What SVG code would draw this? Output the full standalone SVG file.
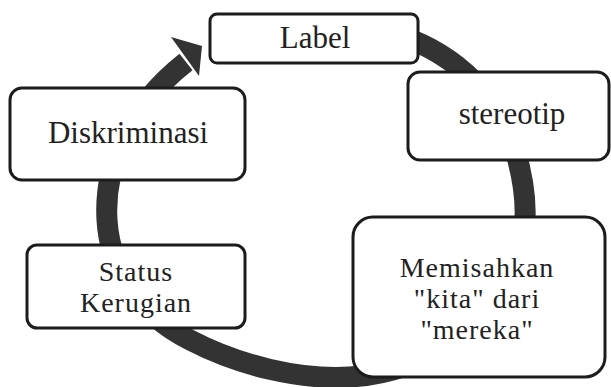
<svg xmlns="http://www.w3.org/2000/svg" width="611" height="387" viewBox="0 0 611 387">
<style>
.box{fill:#fff;stroke:#1c1c1c;stroke-width:3}
.t{font-family:"Liberation Serif","Times New Roman",serif;font-size:31px;fill:#222;text-anchor:middle}
.m{font-size:28px;letter-spacing:1px}
.band{fill:none;stroke:#333;stroke-width:21}
</style>
<rect width="611" height="387" fill="#fff"/>
<g id="connectors">
<path class="band" d="M395 35 C440 45 500 90 515 150 C530 200 528 240 512 272 C485 330 425 372 350 377 C300 380 240 366 190 340 C140 315 110 270 107 220 C104 170 125 110 186 62"/>
<polygon points="171,37 202,46 199,76" fill="#333"/>
</g>
<g id="label"><rect class="box" x="210" y="14" width="208" height="49" rx="7"/><text class="t" x="315" y="48">Label</text></g>
<g id="diskriminasi"><rect class="box" x="10" y="88" width="235" height="92" rx="12"/><text class="t" x="128" y="143">Diskriminasi</text></g>
<g id="stereotip"><rect class="box" x="408" y="72" width="201" height="88" rx="12"/><text class="t" x="512" y="124">stereotip</text></g>
<g id="status"><rect class="box" x="27" y="245" width="218" height="83" rx="10"/><text class="t m" x="136" y="281">Status</text><text class="t m" x="136" y="312">Kerugian</text></g>
<g id="memisahkan"><rect class="box" x="353" y="217" width="252" height="160" rx="20"/><text class="t m" x="477" y="277">Memisahkan</text><text class="t m" x="477" y="308">"kita" dari</text><text class="t m" x="477" y="339">"mereka"</text></g>
</svg>
